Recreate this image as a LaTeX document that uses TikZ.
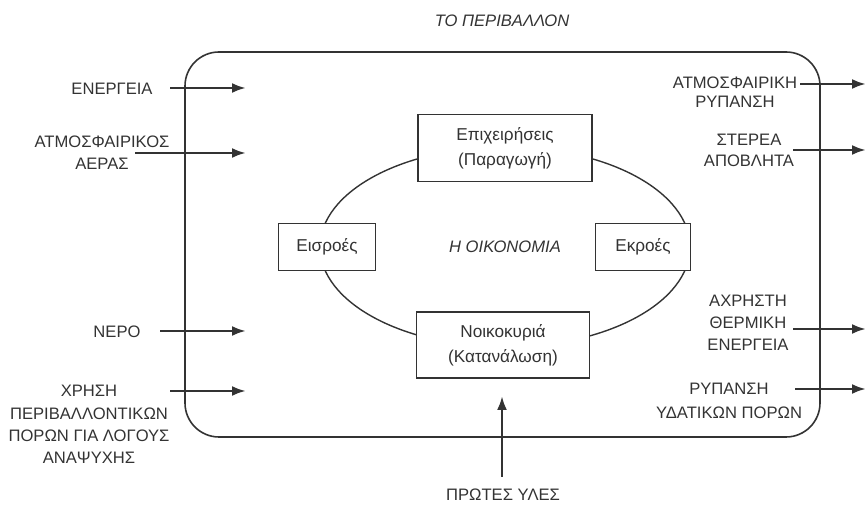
\documentclass[tikz,border=0pt]{standalone}
\usepackage{fontspec}
\setmainfont{Liberation Sans}
\usetikzlibrary{arrows.meta}

\begin{document}
\begin{tikzpicture}[x=0.5pt, y=-0.5pt, >={Latex[length=7pt,width=5pt]},
  color=black!80, font=\fontsize{8.3}{11}\selectfont,
  lbl/.style={align=center, inner sep=0pt},
  ital/.style={lbl, font=\fontsize{8.3}{11}\selectfont\itshape},
  box/.style={draw, fill=white, line width=0.7pt, align=center, inner sep=2pt,
    font=\fontsize{8.6}{12.5}\selectfont},
  flow/.style={->, line width=1.3pt}]
\useasboundingbox (0,0) rectangle (868,512);

% the environment
\draw[line width=0.8pt, rounded corners=17pt] (185,52) rectangle (820,437);
\node[ital] (env) at (502,21) {ΤΟ ΠΕΡΙΒΑΛΛΟΝ};

% the economy
\coordinate (c) at (505,247);
\draw[line width=0.7pt] (c) ellipse [x radius=92.5pt, y radius=50pt];
\node[ital] (eco) at (c) {Η ΟΙΚΟΝΟΜΙΑ};
\node[box, minimum width=87pt, minimum height=33.5pt] (firm) at (505,148) {Επιχειρήσεις\\(Παραγωγή)};
\node[box, minimum width=86.5pt, minimum height=33pt] (home) at (503,345) {Νοικοκυριά\\(Κατανάλωση)};
\node[box, minimum width=48.5pt, minimum height=23.5pt] (inp) at (327,247) {Εισροές};
\node[box, minimum width=47.5pt, minimum height=23.5pt] (outp) at (643,247) {Εκροές};

% inputs
\node[lbl] (ener) at (112,89) {ΕΝΕΡΓΕΙΑ};
\node[lbl] (air) at (102,153) {ΑΤΜΟΣΦΑΙΡΙΚΟΣ\\ΑΕΡΑΣ};
\node[lbl] (water) at (117,332) {ΝΕΡΟ};
\node[lbl, font=\fontsize{8.3}{11.2}\selectfont] (rec) at (89,424.5) {ΧΡΗΣΗ\\ΠΕΡΙΒΑΛΛΟΝΤΙΚΩΝ\\ΠΟΡΩΝ ΓΙΑ ΛΟΓΟΥΣ\\ΑΝΑΨΥΧΗΣ};
\node[lbl] (raw) at (503,495) {ΠΡΩΤΕΣ ΥΛΕΣ};

\coordinate (ener1) at (170,88);  \coordinate (ener2) at (246,88);
\coordinate (air1) at (135,153);  \coordinate (air2) at (246,153);
\coordinate (water1) at (160,331); \coordinate (water2) at (246,331);
\coordinate (rec1) at (170,391);  \coordinate (rec2) at (246,391);
\coordinate (raw1) at (502,477);  \coordinate (raw2) at (502,396);
\draw[flow] (ener1) -- (ener2);
\draw[flow] (air1) -- (air2);
\draw[flow] (water1) -- (water2);
\draw[flow] (rec1) -- (rec2);
\draw[flow] (raw1) -- (raw2);

% outputs
\node[lbl, font=\fontsize{8.3}{9.6}\selectfont] (airpol) at (735,92.5) {ΑΤΜΟΣΦΑΙΡΙΚΗ\\ΡΥΠΑΝΣΗ};
\node[lbl, font=\fontsize{8.3}{10.6}\selectfont] (solid) at (749,150.5) {ΣΤΕΡΕΑ\\ΑΠΟΒΛΗΤΑ};
\node[lbl] (heat) at (748,323) {ΑΧΡΗΣΤΗ\\ΘΕΡΜΙΚΗ\\ΕΝΕΡΓΕΙΑ};
\node[lbl, font=\fontsize{8.3}{12}\selectfont] (watpol) at (729,401) {ΡΥΠΑΝΣΗ\\ΥΔΑΤΙΚΩΝ ΠΟΡΩΝ};

\coordinate (airpol1) at (800,84);  \coordinate (airpol2) at (866,84);
\coordinate (solid1) at (793,150);  \coordinate (solid2) at (866,150);
\coordinate (heat1) at (793,329);   \coordinate (heat2) at (866,329);
\coordinate (watpol1) at (795,389); \coordinate (watpol2) at (866,389);
\draw[flow] (airpol1) -- (airpol2);
\draw[flow] (solid1) -- (solid2);
\draw[flow] (heat1) -- (heat2);
\draw[flow] (watpol1) -- (watpol2);
\end{tikzpicture}
\end{document}
